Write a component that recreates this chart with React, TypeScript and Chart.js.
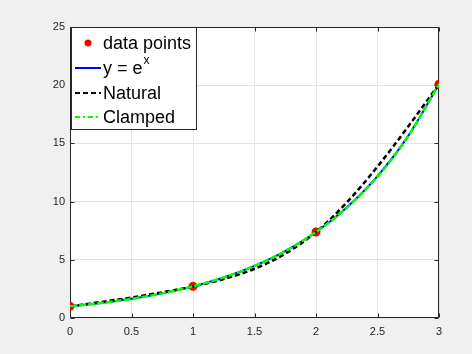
import React, { useEffect, useRef } from "react";
import { Chart, registerables } from "chart.js";

Chart.register(...registerables);

const FONT = "'Liberation Sans', Arial, Helvetica, sans-serif";

// Sample positions along x
const xValues = [0, 0.25, 0.5, 0.75, 1, 1.25, 1.5, 1.75, 2, 2.25, 2.5, 2.75, 3];
// y = e^x
const expValues = [1, 1.284, 1.649, 2.117, 2.718, 3.49, 4.482, 5.755, 7.389, 9.488, 12.182, 15.643, 20.086];
// Natural cubic spline
const naturalValues = [1, 1.37, 1.764, 2.206, 2.718, 3.348, 4.23, 5.525, 7.389, 9.926, 13.009, 16.456, 20.086];
// Clamped cubic spline
const clampedValues = [1, 1.282, 1.645, 2.115, 2.718, 3.485, 4.476, 5.756, 7.389, 9.462, 12.143, 15.621, 20.086];
// Data points
const knotX = [0, 1, 2, 3];
const knotY = [1, 2.718, 7.389, 20.086];

const legendLabels = ["data points", "y = e", "Natural", "Clamped"];

const AXIS_COLOR = "#262626";

export default function App() {
  const ref = useRef<HTMLCanvasElement>(null);

  useEffect(() => {
    document.body.style.margin = "0";
    const canvas = ref.current;
    if (!canvas) return;

    const toPts = (ys: number[]) => xValues.map((x, i) => ({ x, y: ys[i] }));

    const bgPlugin = {
      id: "bg",
      beforeDraw(chart: any) {
        const { ctx, chartArea: a } = chart;
        ctx.save();
        ctx.fillStyle = "#f0f0f0";
        ctx.fillRect(0, 0, chart.width, chart.height);
        ctx.fillStyle = "#ffffff";
        ctx.fillRect(a.left, a.top, a.right - a.left, a.bottom - a.top);
        ctx.restore();
      },
    };

    const boxPlugin = {
      id: "box",
      beforeDatasetsDraw(chart: any) {
        const { ctx, chartArea: a, scales } = chart;
        ctx.save();
        ctx.strokeStyle = AXIS_COLOR;
        ctx.lineWidth = 1;
        const L = Math.round(a.left) + 0.5;
        const R = Math.round(a.right) - 0.5;
        const T = Math.round(a.top) + 0.5;
        const B = Math.round(a.bottom) - 0.5;
        ctx.beginPath();
        ctx.rect(L, T, R - L, B - T);
        ctx.stroke();
        const tl = 4;
        ctx.beginPath();
        scales.x.ticks.forEach((t: any) => {
          const px = Math.round(scales.x.getPixelForValue(t.value)) + 0.5;
          ctx.moveTo(px, B);
          ctx.lineTo(px, B - tl);
          ctx.moveTo(px, T);
          ctx.lineTo(px, T + tl);
        });
        scales.y.ticks.forEach((t: any) => {
          const py = Math.round(scales.y.getPixelForValue(t.value)) + 0.5;
          ctx.moveTo(L, py);
          ctx.lineTo(L + tl, py);
          ctx.moveTo(R, py);
          ctx.lineTo(R - tl, py);
        });
        ctx.stroke();
        ctx.restore();
      },
    };

    const legendPlugin = {
      id: "customLegend",
      afterDraw(chart: any) {
        const { ctx } = chart;
        const x0 = 71.5, y0 = 27.5, w = 125, h = 102;
        ctx.save();
        ctx.fillStyle = "#ffffff";
        ctx.fillRect(x0, y0, w, h);
        ctx.strokeStyle = "#262626";
        ctx.lineWidth = 1;
        ctx.strokeRect(x0, y0, w, h);
        const rows = [43, 68, 93, 117];
        const sx0 = 75, sx1 = 101, tx = 103;
        const mainFont = `18px ${FONT}`;
        ctx.font = mainFont;
        ctx.textBaseline = "middle";
        // data points
        ctx.beginPath();
        ctx.fillStyle = "#ff0000";
        ctx.arc(88, rows[0], 3.5, 0, Math.PI * 2);
        ctx.fill();
        ctx.fillStyle = "#000000";
        ctx.fillText(legendLabels[0], tx, rows[0] + 1);
        // lines
        const styles = [
          { color: "#0000ff", dash: [] as number[] },
          { color: "#000000", dash: [5, 3] },
          { color: "#00ff00", dash: [5, 3, 2, 3] },
        ];
        styles.forEach((s, i) => {
          const y = rows[i + 1];
          ctx.beginPath();
          ctx.strokeStyle = s.color;
          ctx.lineWidth = 2;
          ctx.setLineDash(s.dash);
          ctx.moveTo(sx0, y);
          ctx.lineTo(sx1, y);
          ctx.stroke();
          ctx.setLineDash([]);
          ctx.fillStyle = "#000000";
          ctx.font = mainFont;
          ctx.fillText(legendLabels[i + 1], tx, y + 1);
          if (i === 0) {
            const wBase = ctx.measureText(legendLabels[1]).width;
            ctx.font = `12px ${FONT}`;
            ctx.fillText("x", tx + wBase + 1, y - 7);
          }
        });
        ctx.restore();
      },
    };

    const chart = new Chart(canvas, {
      type: "line",
      data: {
        datasets: [
          {
            label: "data points",
            data: knotX.map((x, i) => ({ x, y: knotY[i] })),
            showLine: false,
            pointRadius: 4.5,
            pointBackgroundColor: "#ff0000",
            pointBorderWidth: 0,
            borderColor: "#ff0000",
            order: 3,
          },
          {
            label: "y = e^x",
            data: toPts(expValues),
            borderColor: "#0000ff",
            borderWidth: 2,
            pointRadius: 0,
            cubicInterpolationMode: "monotone",
            order: 2,
          },
          {
            label: "Natural",
            data: toPts(naturalValues),
            borderColor: "#000000",
            borderWidth: 2.5,
            borderDash: [5, 3],
            pointRadius: 0,
            cubicInterpolationMode: "monotone",
            order: 1,
          },
          {
            label: "Clamped",
            data: toPts(clampedValues),
            borderColor: "#00ff00",
            borderWidth: 2.5,
            borderDash: [7, 2],
            pointRadius: 0,
            cubicInterpolationMode: "monotone",
            order: 0,
          },
        ],
      },
      options: {
        responsive: false,
        animation: false,
        layout: { padding: { left: 0, right: 33, top: 27, bottom: 0 } },
        plugins: {
          legend: { display: false },
          tooltip: { enabled: false },
          title: { display: false },
        },
        scales: {
          x: {
            type: "linear",
            min: 0,
            max: 3,
            ticks: {
              stepSize: 0.5,
              color: AXIS_COLOR,
              font: { family: FONT, size: 11 },
              padding: 7,
              maxRotation: 0,
              callback: (v: any) => String(v),
            },
            grid: { color: "#e4e4e4", drawTicks: false },
            border: { display: false },
            afterFit: (s: any) => {
              s.height = 36;
            },
          },
          y: {
            type: "linear",
            min: 0,
            max: 25,
            ticks: {
              stepSize: 5,
              color: AXIS_COLOR,
              font: { family: FONT, size: 11 },
              padding: 5,
              callback: (v: any) => String(v),
            },
            grid: { color: "#e4e4e4", drawTicks: false },
            border: { display: false },
            afterFit: (s: any) => {
              s.width = 70;
            },
          },
        },
      },
      plugins: [bgPlugin, boxPlugin, legendPlugin],
    });

    return () => chart.destroy();
  }, []);

  return (
    <div style={{ width: 472, height: 354, background: "#f0f0f0" }}>
      <canvas ref={ref} width={472} height={354} style={{ display: "block" }} />
    </div>
  );
}
